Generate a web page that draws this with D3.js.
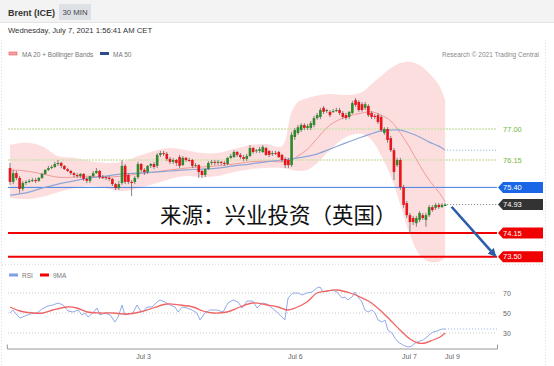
<!DOCTYPE html>
<html>
<head>
<meta charset="utf-8">
<script src="https://cdnjs.cloudflare.com/ajax/libs/d3/7.8.5/d3.min.js"></script>
<style>
  body { margin: 0; background: #fff; }
  svg { display: block; font-family: "Liberation Sans", Arial, sans-serif; }
</style>
</head>
<body>
<svg id="chart" width="554" height="366"></svg>
<script>
// 30 min candles, Brent
var candleOpen = [75.93,75.55,75.79,75.66,75.36,75.52,75.55,75.58,75.60,75.58,75.66,75.77,75.88,75.93,75.96,76.04,76.07,75.99,75.90,75.85,
  75.79,75.74,75.71,75.77,75.63,75.58,75.71,75.79,75.85,75.68,75.68,75.66,75.63,75.49,75.38,75.52,75.99,75.74,75.55,75.55,
  75.68,76.04,75.88,75.82,75.99,76.04,75.99,76.29,76.34,76.32,76.18,76.10,76.15,76.23,76.01,76.21,76.15,76.15,75.99,76.01,
  75.85,75.74,75.90,76.07,76.10,76.07,76.10,76.07,76.04,76.21,76.23,76.37,76.29,76.23,76.18,76.26,76.48,76.40,76.40,76.37,
  76.48,76.40,76.32,76.34,76.37,76.29,76.18,76.15,76.01,76.78,76.89,76.97,77.11,77.03,77.03,77.11,77.30,77.33,77.58,77.49,
  77.47,77.47,77.49,77.52,77.44,77.38,77.33,77.44,77.79,77.74,77.68,77.58,77.63,77.44,77.36,77.38,77.33,76.89,77.00,76.75,
  76.42,76.01,76.15,75.41,74.97,74.64,74.56,74.42,74.51,74.64,74.51,74.64,74.86,74.84,74.92,74.86,74.89];
var candleHigh = [76.07,75.88,75.85,75.71,75.58,75.60,75.63,75.66,75.66,75.68,75.79,75.90,75.99,76.01,76.10,76.15,76.10,76.01,75.93,75.88,
  75.82,75.79,75.79,75.79,75.68,75.71,75.85,75.93,75.88,75.74,75.71,75.71,75.66,75.52,75.58,76.15,76.04,75.79,75.60,75.71,
  76.10,76.07,75.93,76.01,76.07,76.10,76.34,76.40,76.40,76.37,76.23,76.21,76.18,76.29,76.26,76.23,76.21,76.18,76.07,76.04,
  75.88,75.93,76.12,76.15,76.15,76.15,76.12,76.12,76.23,76.32,76.42,76.40,76.34,76.29,76.32,76.56,76.51,76.45,76.51,76.56,
  76.51,76.42,76.40,76.40,76.40,76.32,76.23,76.21,76.92,77.03,77.11,77.16,77.16,77.14,77.22,77.36,77.44,77.58,77.63,77.55,
  77.52,77.55,77.58,77.58,77.49,77.44,77.49,77.77,77.85,77.79,77.74,77.74,77.68,77.49,77.41,77.44,77.38,77.05,77.05,76.81,
  76.48,76.21,76.21,75.47,75.03,74.70,74.62,74.62,74.75,74.70,74.70,74.92,74.92,74.97,74.97,74.97,74.97];
var candleLow = [75.47,75.49,75.60,75.25,75.30,75.47,75.52,75.55,75.52,75.55,75.63,75.74,75.85,75.90,75.93,75.99,75.93,75.88,75.82,75.74,
  75.68,75.66,75.66,75.58,75.52,75.52,75.68,75.77,75.63,75.63,75.60,75.58,75.44,75.33,75.33,75.47,75.49,75.49,75.16,75.49,
  75.63,75.82,75.74,75.77,75.93,75.90,75.93,76.23,76.26,76.12,76.04,76.04,75.99,75.93,75.99,76.10,76.10,75.93,75.96,75.66,
  75.66,75.68,75.88,76.01,76.01,76.01,76.01,75.99,76.01,76.18,76.21,76.23,76.18,76.12,76.12,76.23,76.32,76.34,76.34,76.34,
  76.26,76.23,76.26,76.29,76.21,76.10,75.93,75.93,75.96,76.70,76.84,76.92,76.97,76.97,76.97,77.05,77.25,77.27,77.41,77.44,
  77.33,77.44,77.47,77.38,77.27,77.25,77.27,77.41,77.60,77.47,77.47,77.52,77.33,77.27,77.27,77.14,76.92,76.84,76.62,76.37,
  75.60,75.96,75.33,74.84,74.56,74.15,74.37,74.32,74.45,74.51,74.32,74.59,74.73,74.78,74.81,74.84,74.89];
var candleClose = [75.55,75.79,75.66,75.36,75.52,75.55,75.58,75.60,75.58,75.66,75.77,75.88,75.93,75.96,76.04,76.07,75.99,75.90,75.85,75.79,
  75.74,75.71,75.77,75.63,75.58,75.71,75.79,75.85,75.68,75.67,75.66,75.63,75.49,75.38,75.49,75.99,75.55,75.55,75.52,75.66,
  76.04,75.88,75.82,75.99,76.04,75.96,76.29,76.34,76.32,76.18,76.10,76.15,76.07,75.99,76.21,76.15,76.14,75.99,76.01,75.82,
  75.74,75.90,76.07,76.10,76.07,76.10,76.07,76.04,76.21,76.26,76.37,76.29,76.23,76.18,76.26,76.48,76.37,76.42,76.45,76.51,
  76.29,76.29,76.34,76.33,76.23,76.15,76.01,76.01,76.84,76.97,77.05,77.11,77.03,77.08,77.16,77.30,77.38,77.52,77.47,77.52,
  77.38,77.49,77.52,77.44,77.33,77.30,77.47,77.71,77.66,77.52,77.52,77.68,77.38,77.33,77.33,77.19,76.97,77.00,76.70,76.42,
  75.82,76.15,75.41,74.92,74.64,74.45,74.45,74.56,74.70,74.56,74.64,74.86,74.78,74.92,74.86,74.92,74.93];

// MA 20 + Bollinger, MA 50 (at these candles)
var bandIdx = [0,5,10,15,20,25,30,35,40,45,50,55,60,65,70,75,80,85,88,90,93,95,100,105,110,113,116,119,122,125,128,131,134,136];
var bandUpper = [76.56,76.62,76.53,76.26,76.21,76.12,76.07,76.10,76.26,76.40,76.48,76.42,76.34,76.34,76.45,76.56,76.59,76.53,
  77.47,77.74,77.85,77.90,77.96,77.93,78.01,78.23,78.45,78.67,78.81,78.84,78.75,78.53,78.21,77.79];
var bandLower = [75.11,75.08,75.14,75.27,75.38,75.44,75.38,75.30,75.38,75.49,75.63,75.71,75.68,75.71,75.82,75.90,75.93,75.93,
  75.88,75.85,75.88,75.99,76.42,76.78,76.86,76.70,76.26,75.71,74.92,74.10,73.55,73.36,73.36,73.47];
var ma20 = [75.88,75.85,75.77,75.68,75.68,75.71,75.68,75.71,75.77,75.82,75.88,75.93,75.96,75.99,76.04,76.10,76.12,76.10,
  76.15,76.26,76.45,76.64,77.11,77.33,77.44,77.47,77.38,77.22,76.89,76.48,76.01,75.60,75.27,75.00];
var ma50Idx = [0,5,10,15,20,25,30,35,40,45,50,55,60,65,70,75,80,85,90,95,100,105,110,116,119,122,125,128,131,134,136];
var ma50 = [75.19,75.25,75.38,75.49,75.58,75.66,75.71,75.77,75.79,75.82,75.85,75.88,75.90,75.93,75.99,76.04,76.10,76.15,
  76.21,76.29,76.45,76.62,76.78,76.95,76.97,76.97,76.89,76.78,76.64,76.53,76.42];

// RSI panel
var rsiIdx = [0,0.9,2.2,3.1,4.7,6.3,8.4,10,11.9,13.4,15,16.6,18.1,19.7,21.3,22.5,23.4,24.4,25.9,27.2,
  28.1,29.7,31.3,32.8,33.8,35,35.9,36.9,38.4,39.7,40.6,41.6,42.8,44.4,45.9,46.9,48.4,50,51.6,52.5,
  53.8,55.3,56.9,58.4,59.4,60.9,62.5,64.7,66.6,68.1,69.7,71.3,72.5,74.1,75.9,77.2,78.8,80.3,81.9,83.4,
  85,85.9,86.9,88.4,90,91.3,92.8,94.4,95.9,96.9,97.8,99.4,100.9,102.2,103.8,104.7,105.6,106.9,107.8,108.8,
  110,110.9,111.9,113.1,114.1,115,116.3,117.2,118.1,119.4,120.3,121.3,122.8,124.4,125.6,126.6,128.1,129.1,130.3,131.3,
  132.2,133.4,135,136];
var rsiVal = [50,53,48,45,47,49,50,54,57,58,60,58,52,51,53,48,50,46,50,55,
  48,50,48,41,46,58,48,49,50,58,53,51,56,56,61,63,61,58,56,51,
  56,55,53,50,43,50,53,53,51,60,63,61,55,62,62,55,60,59,55,51,
  46,43,65,70,70,68,70,71,75,76,71,72,73,71,65,66,63,66,71,66,
  61,53,51,53,50,43,41,43,33,30,25,21,18,16,17,20,22,23,26,29,
  31,32,34,34];
var smaIdx = [0,3.1,7.2,10.3,13.4,17.8,20.9,24.1,28.1,32.2,36.6,40.6,44.7,49.1,53.1,57.2,60.3,63.4,67.8,71.9,
  75.9,80.3,83.8,86.6,89.1,92.8,95.9,99.1,102.2,106.3,109.4,112.5,115.6,118.8,121.9,125,127.5,129.7,132.2,134.4,136];
var smaVal = [56,52,50,50,53,56,55,51,50,50,49,51,55,59,58,56,52,50,51,56,
  60,58,56,53,55,61,70,72,73,70,66,61,53,43,33,24,20,20,23,26,30];
var rsiGrid = [70, 50, 30];

// levels
var levelValues = [77.00, 76.15, 75.40, 74.15, 73.50];
var levelTypes = ["res", "res", "pivot", "sup", "sup"];
var lastPrice = 74.93;
var arrowFrom = [138, 74.87], arrowTo = [151.6, 73.53];

var tickIdx = [41.6, 89, 124.7, 138.1];
var tickLabels = ["Jul 3", "Jul 6", "Jul 7", "Jul 9"];

var svg = d3.select("#chart");
var W = 554, H = 366;

var x = d3.scaleLinear().domain([-1, 152.2]).range([6.8, 497]);
var y = d3.scaleLinear().domain([73.5, 77]).range([256.75, 129]);
var yR = d3.scaleLinear().domain([30, 70]).range([333, 293]);
var xEnd = x.range()[1], xStart = 8;

// header
svg.append("rect").attr("x", 0).attr("y", 0).attr("width", W).attr("height", 22).attr("fill", "#f3f3f3");
svg.append("line").attr("x1", 0).attr("x2", W).attr("y1", 22.5).attr("y2", 22.5).attr("stroke", "#e4e4e4");
svg.append("text").attr("x", 8).attr("y", 15.5).attr("font-size", 9).attr("font-weight", "bold").attr("fill", "#333").text("Brent (ICE)");
svg.append("rect").attr("x", 59).attr("y", 4).attr("width", 32).attr("height", 16).attr("fill", "#dde1e6");
svg.append("text").attr("x", 75).attr("y", 15).attr("text-anchor", "middle").attr("font-size", 7.8).attr("fill", "#444").text("30 MIN");
svg.append("text").attr("x", 8).attr("y", 33).attr("font-size", 7.7).attr("fill", "#333").text("Wednesday, July 7, 2021 1:56:41 AM CET");

// frame
var frame = svg.append("g").attr("stroke", "#d3e0ea").attr("stroke-dasharray", "1,2").attr("fill", "none");
frame.append("line").attr("x1", 1.5).attr("x2", 1.5).attr("y1", 40).attr("y2", H);
frame.append("line").attr("x1", 545.5).attr("x2", 545.5).attr("y1", 40).attr("y2", H);
frame.append("line").attr("x1", 2).attr("x2", 545).attr("y1", 264.5).attr("y2", 264.5);

// legends
svg.append("rect").attr("x", 9).attr("y", 52).attr("width", 8).attr("height", 3).attr("fill", "#f6a3a3").attr("stroke", "#f05555").attr("stroke-width", 0.6);
svg.append("text").attr("x", 22).attr("y", 56.5).attr("font-size", 6.5).attr("fill", "#777").text("MA 20 + Bollinger Bands");
svg.append("rect").attr("x", 100).attr("y", 52).attr("width", 9).attr("height", 3).attr("fill", "#2a4e8c");
svg.append("text").attr("x", 113).attr("y", 56.5).attr("font-size", 6.5).attr("fill", "#777").text("MA 50");
svg.append("text").attr("x", 539).attr("y", 56.5).attr("text-anchor", "end").attr("font-size", 6.5).attr("fill", "#888").text("Research \u00a9 2021 Trading Central");

// bollinger band
var band = d3.area()
    .x(function (d, i) { return x(bandIdx[i]); })
    .y0(function (d, i) { return y(bandLower[i]); })
    .y1(function (d, i) { return y(bandUpper[i]); })
    .curve(d3.curveCatmullRom);
svg.append("path").attr("d", band(bandIdx)).attr("fill", "#fcd3d3").attr("opacity", 0.75);

// level lines
var levelStyle = {
    res: { stroke: "#cfe3b0", width: 1.5, dash: "2,1", text: "#7cb342" },
    pivot: { stroke: "#3f7fea", width: 1, dash: null, tag: "#1a66e6" },
    sup: { stroke: "#f20000", width: 2, dash: null, tag: "#f00000" }
};
levelValues.forEach(function (v, i) {
    var st = levelStyle[levelTypes[i]];
    svg.append("line")
        .attr("x1", xStart).attr("x2", xEnd)
        .attr("y1", y(v)).attr("y2", y(v))
        .attr("stroke", st.stroke).attr("stroke-width", st.width)
        .attr("stroke-dasharray", st.dash);
});

// MA lines
var ma20Line = d3.line().x(function (d, i) { return x(bandIdx[i]); }).y(function (d) { return y(d); }).curve(d3.curveCatmullRom);
svg.append("path").attr("d", ma20Line(ma20)).attr("fill", "none").attr("stroke", "#f29a9a").attr("stroke-width", 1);
var ma50Line = d3.line().x(function (d, i) { return x(ma50Idx[i]); }).y(function (d) { return y(d); }).curve(d3.curveCatmullRom);
svg.append("path").attr("d", ma50Line(ma50)).attr("fill", "none").attr("stroke", "#8ea6d6").attr("stroke-width", 1.2);
var lastIdx = candleClose.length - 1;
svg.append("line").attr("x1", x(lastIdx) + 2).attr("x2", xEnd)
    .attr("y1", y(ma50[ma50.length - 1])).attr("y2", y(ma50[ma50.length - 1]))
    .attr("stroke", "#8ea6d6").attr("stroke-dasharray", "1,2");
svg.append("line").attr("x1", x(lastIdx) + 2).attr("x2", xEnd)
    .attr("y1", y(lastPrice)).attr("y2", y(lastPrice))
    .attr("stroke", "#777").attr("stroke-dasharray", "1,2");

// candles
var cw = 2.6;
var cg = svg.append("g");
candleClose.forEach(function (c, i) {
    var o = candleOpen[i];
    var up = c >= o;
    cg.append("line")
        .attr("x1", x(i)).attr("x2", x(i))
        .attr("y1", y(candleHigh[i])).attr("y2", y(candleLow[i]))
        .attr("stroke", "#666").attr("stroke-width", 0.8);
    cg.append("rect")
        .attr("x", x(i) - cw / 2)
        .attr("y", y(Math.max(o, c)))
        .attr("width", cw)
        .attr("height", Math.max(1, Math.abs(y(o) - y(c))))
        .attr("fill", up ? "#2d8a2d" : "#e8151b");
});

// level labels / tags
function tag(v, fill, label) {
    var yy = y(v), h = 11;
    svg.append("path")
        .attr("d", "M" + (xEnd + 1) + "," + yy + "L" + (xEnd + 6) + "," + (yy - h / 2) + "H543V" + (yy + h / 2) + "H" + (xEnd + 6) + "Z")
        .attr("fill", fill);
    svg.append("text").attr("x", 503).attr("y", yy + 2.7).attr("font-size", 7.5).attr("fill", "#fff").text(label);
}
levelValues.forEach(function (v, i) {
    var st = levelStyle[levelTypes[i]];
    if (st.tag) {
        tag(v, st.tag, v.toFixed(2));
    } else {
        svg.append("text").attr("x", 503).attr("y", y(v) + 2.7).attr("font-size", 7.5).attr("fill", st.text).text(v.toFixed(2));
    }
});
tag(lastPrice, "#333", lastPrice.toFixed(2));

// arrow
var defs = svg.append("defs");
defs.append("marker").attr("id", "ah").attr("viewBox", "0 0 10 10").attr("refX", 8).attr("refY", 5)
    .attr("markerWidth", 3.2).attr("markerHeight", 3.2).attr("orient", "auto")
    .append("path").attr("d", "M0,0L10,5L0,10Z").attr("fill", "#2b5ea8");
svg.append("line")
    .attr("x1", x(arrowFrom[0])).attr("y1", y(arrowFrom[1]))
    .attr("x2", x(arrowTo[0])).attr("y2", y(arrowTo[1]))
    .attr("stroke", "#2b5ea8").attr("stroke-width", 2.6)
    .attr("marker-end", "url(#ah)");

// source note
svg.append("text").attr("x", 160).attr("y", 222.5)
    .attr("font-family", "'Noto Sans CJK SC', sans-serif").attr("font-size", 21.5).attr("fill", "#111")
    .text("来源：兴业投资（英国）");

// RSI panel
svg.append("rect").attr("x", 9).attr("y", 273.5).attr("width", 9).attr("height", 3).attr("fill", "#7f9ee6");
svg.append("text").attr("x", 22).attr("y", 277.5).attr("font-size", 6.5).attr("fill", "#777").text("RSI");
svg.append("rect").attr("x", 40).attr("y", 273.5).attr("width", 9).attr("height", 3).attr("fill", "#f00000");
svg.append("text").attr("x", 53).attr("y", 277.5).attr("font-size", 6.5).attr("fill", "#777").text("9MA");

rsiGrid.forEach(function (v) {
    svg.append("line").attr("x1", xStart).attr("x2", xEnd).attr("y1", yR(v)).attr("y2", yR(v))
        .attr("stroke", "#c8c8c8").attr("stroke-dasharray", "1,2");
    svg.append("text").attr("x", 503).attr("y", yR(v) + 2.5).attr("font-size", 7).attr("fill", "#666").text(v);
});

var rsiLine = d3.line().x(function (d, i) { return x(rsiIdx[i]); }).y(function (d) { return yR(d); });
svg.append("path").attr("d", rsiLine(rsiVal)).attr("fill", "none").attr("stroke", "#94abea").attr("stroke-width", 1);
svg.append("line").attr("x1", x(rsiIdx[rsiIdx.length - 1])).attr("x2", xEnd)
    .attr("y1", yR(rsiVal[rsiVal.length - 1])).attr("y2", yR(rsiVal[rsiVal.length - 1]))
    .attr("stroke", "#94abea").attr("stroke-dasharray", "1,2");
var smaLine = d3.line().x(function (d, i) { return x(smaIdx[i]); }).y(function (d) { return yR(d); }).curve(d3.curveCatmullRom);
svg.append("path").attr("d", smaLine(smaVal)).attr("fill", "none").attr("stroke", "#f06464").attr("stroke-width", 1.3);

// x axis
var xAxis = d3.axisBottom(x).tickValues(tickIdx)
    .tickFormat(function (d, i) { return tickLabels[i]; })
    .tickSizeInner(0).tickSizeOuter(-4).tickPadding(6);
var ax = svg.append("g").attr("transform", "translate(0,348.5)").call(xAxis);
ax.select(".domain").attr("stroke", "#999");
ax.selectAll("text").attr("font-size", 7).attr("fill", "#666").attr("font-family", "'Liberation Sans', Arial, sans-serif");
</script>
</body>
</html>
